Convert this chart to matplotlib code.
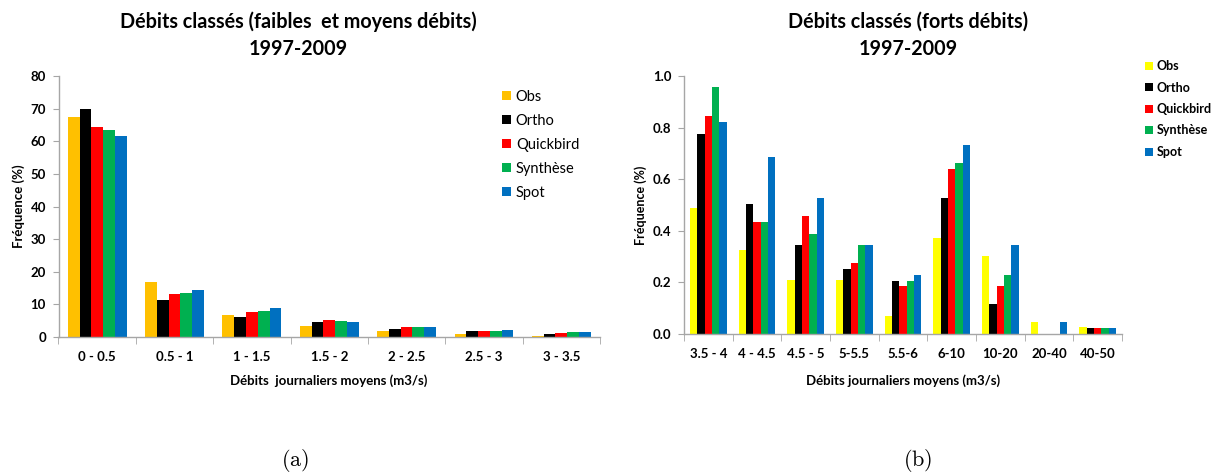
import matplotlib
matplotlib.use("Agg")
import matplotlib.pyplot as plt
import numpy as np

plt.rcParams['font.family'] = ['Lato', 'DejaVu Sans']
plt.rcParams['mathtext.fontset'] = 'cm'

series = ["Obs", "Ortho", "Quickbird", "Synthèse", "Spot"]

# Left chart (faibles et moyens débits)
cats_a = ["0 - 0.5", "0.5 - 1", "1 - 1.5", "1.5 - 2", "2 - 2.5", "2.5 - 3", "3 - 3.5"]
obs_a = [67.5, 16.9, 6.6, 3.3, 1.7, 0.8, 0.4]
ortho_a = [69.8, 11.2, 6.1, 4.5, 2.6, 1.7, 0.9]
quick_a = [64.4, 13.1, 7.7, 5.2, 3.0, 1.9, 1.1]
synth_a = [63.5, 13.4, 8.0, 4.9, 3.2, 1.9, 1.4]
spot_a = [61.5, 14.3, 8.8, 4.6, 3.2, 2.0, 1.5]

# Right chart (forts débits)
cats_b = ["3.5 - 4", "4 - 4.5", "4.5 - 5", "5-5.5", "5.5-6", "6-10", "10-20", "20-40", "40-50"]
obs_b = [0.490, 0.326, 0.209, 0.209, 0.070, 0.372, 0.302, 0.047, 0.027]
ortho_b = [0.775, 0.504, 0.345, 0.252, 0.205, 0.527, 0.116, 0.0, 0.023]
quick_b = [0.845, 0.434, 0.457, 0.275, 0.186, 0.640, 0.186, 0.0, 0.023]
synth_b = [0.957, 0.434, 0.388, 0.345, 0.205, 0.663, 0.229, 0.0, 0.023]
spot_b = [0.822, 0.686, 0.527, 0.345, 0.229, 0.733, 0.345, 0.047, 0.023]

colors_a = ['#FFC000', '#000000', '#FF0000', '#00B050', '#0070C0']
colors_b = ['#FFFF00', '#000000', '#FF0000', '#00B050', '#0070C0']

W, H = 1228, 476
fig = plt.figure(figsize=(W / 100, H / 100), dpi=100)


def fx(px):
    return px / W


def fy(py):
    return 1 - py / H


spine_col = '#A6A6A6'


def make_chart(ax, cats, data, colors, ylim, yticks, yfmt, legend_xy, legend_fs, legend_bold,
               legend_spacing):
    n = len(cats)
    x = np.arange(n)
    group_w = 0.76
    bw = group_w / len(data)
    handles = []
    for i, (vals, c) in enumerate(zip(data, colors)):
        offs = -group_w / 2 + bw * (i + 0.5)
        b = ax.bar(x + offs, vals, width=bw, color=c, edgecolor='none', label=series[i])
        handles.append(b)
    ax.set_xlim(-0.5, n - 0.5)
    ax.set_ylim(*ylim)
    ax.set_yticks(yticks)
    ax.set_yticklabels([yfmt.format(v) for v in yticks], fontsize=9.5, fontweight='bold')
    ax.set_xticks(x)
    ax.set_xticklabels(cats, fontsize=9.5, fontweight='bold')
    ax.set_xticks(np.arange(n + 1) - 0.5, minor=True)
    ax.tick_params(axis='x', which='major', length=0, pad=10)
    ax.tick_params(axis='x', which='minor', length=5, color=spine_col, direction='out')
    ax.tick_params(axis='y', which='major', length=4, color=spine_col, direction='out', pad=5)
    for s in ['top', 'right']:
        ax.spines[s].set_visible(False)
    for s in ['left', 'bottom']:
        ax.spines[s].set_color(spine_col)
        ax.spines[s].set_linewidth(1.0)
    leg = fig.legend(handles=handles, labels=series, loc='upper left',
                     bbox_to_anchor=(fx(legend_xy[0]), fy(legend_xy[1])),
                     bbox_transform=fig.transFigure, frameon=False,
                     prop={'size': legend_fs, 'weight': 'bold' if legend_bold else 'normal'},
                     handlelength=0.6, handleheight=0.6, handletextpad=0.35,
                     labelspacing=legend_spacing, borderpad=0, borderaxespad=0)
    return leg


ax1 = fig.add_axes([fx(58.5), fy(337), fx(600 - 58.5), (337 - 76) / H])
make_chart(ax1, cats_a, [obs_a, ortho_a, quick_a, synth_a, spot_a], colors_a,
           (0, 80), list(range(0, 81, 10)), "{:d}", (502, 90), 10.5, False, 0.68)

ax2 = fig.add_axes([fx(684), fy(334), fx(1122 - 684), (334 - 76) / H])
make_chart(ax2, cats_b, [obs_b, ortho_b, quick_b, synth_b, spot_b], colors_b,
           (0, 1.0), [0.0, 0.2, 0.4, 0.6, 0.8, 1.0], "{:.1f}", (1145, 60), 9, True, 0.76)

# Titles
title_fs = 14.2
fig.text(fx(298), fy(28), "Débits classés (faibles  et moyens débits)", ha='center', va='baseline',
         fontsize=title_fs, fontweight='bold')
fig.text(fx(298), fy(55), "1997-2009", ha='center', va='baseline', fontsize=title_fs, fontweight='bold')
fig.text(fx(908), fy(28), "Débits classés (forts débits)", ha='center', va='baseline',
         fontsize=title_fs, fontweight='bold')
fig.text(fx(908), fy(55), "1997-2009", ha='center', va='baseline', fontsize=title_fs, fontweight='bold')

# Axis labels
fig.text(fx(329), fy(381), "Débits  journaliers moyens (m3/s)", ha='center', va='center',
         fontsize=9.5, fontweight='bold')
fig.text(fx(903), fy(381), "Débits journaliers moyens (m3/s)", ha='center', va='center',
         fontsize=9.5, fontweight='bold')
fig.text(fx(18.5), fy(206), "Fréquence (%)", ha='center', va='center', rotation=90,
         fontsize=9.5, fontweight='bold')
fig.text(fx(641), fy(205), "Fréquence (%)", ha='center', va='center', rotation=90,
         fontsize=9, fontweight='bold')

# Captions
fig.text(fx(295), fy(460), r"$\mathrm{(a)}$", ha='center', va='center', fontsize=16)
fig.text(fx(918), fy(460), r"$\mathrm{(b)}$", ha='center', va='center', fontsize=16)

fig.savefig("out.png", dpi=100)
